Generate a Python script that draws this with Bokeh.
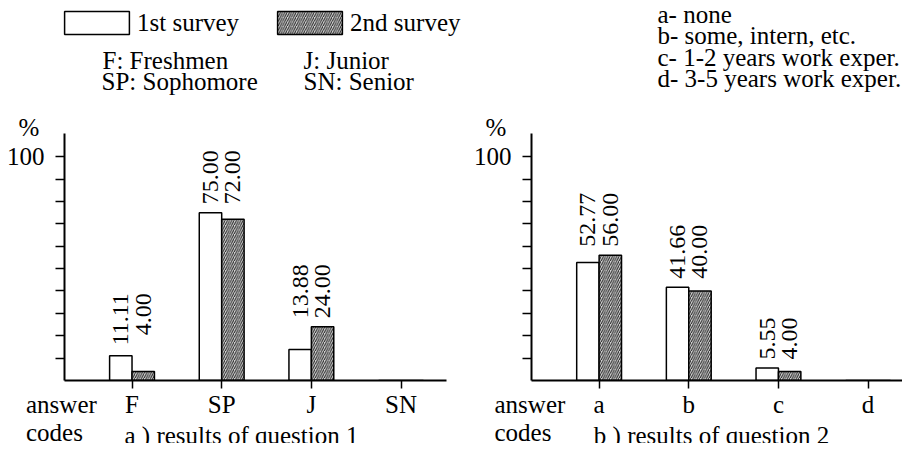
from bokeh.plotting import figure
from bokeh.models import Range1d, FixedTicker, Label, LabelSet, Legend, LegendItem, ColumnDataSource
from bokeh.layouts import row, column
from bokeh.embed import file_html
from bokeh.resources import INLINE

# ---------------- data ----------------
series_names = ["1st survey", "2nd survey"]

q1_codes = ["F", "SP", "J", "SN"]
q1_first = [11.11, 75.00, 13.88, 0.0]
q1_second = [4.00, 72.00, 24.00, 0.0]
q1_first_labels = ["11.11", "75.00", "13.88", ""]
q1_second_labels = ["4.00", "72.00", "24.00", ""]
q1_key_left = ["F: Freshmen", "SP: Sophomore"]
q1_key_right = ["J: Junior", "SN: Senior"]
q1_title = "a ) results of question 1"

q2_codes = ["a", "b", "c", "d"]
q2_first = [52.77, 41.66, 5.55, 0.0]
q2_second = [56.00, 40.00, 4.00, 0.0]
q2_first_labels = ["52.77", "41.66", "5.55", ""]
q2_second_labels = ["56.00", "40.00", "4.00", ""]
q2_key = ["a- none", "b- some, intern, etc.", "c- 1-2 years work exper.", "d- 3-5 years work exper."]
q2_title = "b ) results of question 2"

y_ticks = [10, 20, 30, 40, 50, 60, 70, 80, 90, 100]
y_tick_labels = {100: "100"}
y_unit = "%"
x_axis_name = ["answer", "codes"]

# ---------------- layout constants ----------------
FONT = "Liberation Serif"
FS = 24      # value labels
FS_T = 25    # other texts
PX_PER_CAT = 89.67
PX_PER_PCT = 2.238
W = 902
H = 451
OV_H = 459
TOP = 133
FRAME_H = 247
BOTTOM = H - TOP - FRAME_H
BAR_W = 0.25
GAP = 3.8
WHITE = dict(fill_color="white", line_color="black", line_width=1.5)
HATCH = dict(fill_color="#d4d4d4", hatch_pattern="/", hatch_color="#222222",
             hatch_scale=4.5, hatch_weight=1, line_color="black", line_width=1.5)


def text_len_px(s):
    return sum(0.25 if c == "." else 0.5 for c in s) * FS


def make_chart(codes, first, second, l1, l2, width, border_left, border_right, x_start):
    frame_w = width - border_left - border_right
    y_end = FRAME_H / PX_PER_PCT
    x_end = x_start + frame_w / PX_PER_CAT
    p = figure(width=width, height=H,
               min_border_left=border_left, min_border_right=border_right,
               min_border_top=TOP, min_border_bottom=BOTTOM,
               x_range=Range1d(x_start, x_end), y_range=Range1d(0, y_end),
               output_backend="svg", toolbar_location=None,
               background_fill_color="white", border_fill_color="white")
    p.outline_line_color = None
    p.grid.visible = False

    idx = list(range(len(codes)))
    src = ColumnDataSource(dict(
        x1=[i - BAR_W / 2 for i in idx], x2=[i + BAR_W / 2 for i in idx],
        first=first, second=second))
    p.vbar(x="x1", top="first", bottom=0, width=BAR_W, source=src, **WHITE)
    p.vbar(x="x2", top="second", bottom=0, width=BAR_W, source=src, **HATCH)

    # value labels (rotated), top aligned per pair
    tx, ty, tt = [], [], []
    for i in idx:
        m = max(first[i], second[i])
        longest = max(text_len_px(l1[i]), text_len_px(l2[i]))
        ytop = m + GAP + longest / PX_PER_PCT
        tx += [i - BAR_W / 2, i + BAR_W / 2]
        ty += [ytop, ytop]
        tt += [l1[i], l2[i]]
    lsrc = ColumnDataSource(dict(x=tx, y=ty, text=tt))
    p.add_layout(LabelSet(x="x", y="y", text="text", source=lsrc, angle=1.5707963,
                          text_align="right", text_baseline="middle",
                          text_font=FONT, text_font_size=f"{FS}px", text_color="black"))

    xa = p.xaxis[0]
    xa.ticker = FixedTicker(ticks=idx)
    xa.major_label_overrides = {i: c for i, c in zip(idx, codes)}
    xa.major_tick_in = 0
    xa.major_tick_out = 8
    xa.minor_tick_line_color = None
    xa.axis_line_width = 2
    xa.major_tick_line_width = 1.5
    xa.major_label_standoff = 2
    xa.major_label_text_font = FONT
    xa.major_label_text_font_size = f"{FS_T}px"
    xa.major_label_text_color = "black"

    ya = p.yaxis[0]
    ya.ticker = FixedTicker(ticks=y_ticks)
    ya.major_label_overrides = {t: y_tick_labels.get(t, "") for t in y_ticks}
    ya.major_tick_in = 0
    ya.major_tick_out = 9
    ya.minor_tick_line_color = None
    ya.axis_line_width = 2
    ya.major_tick_line_width = 1.5
    ya.major_label_standoff = 11
    ya.major_label_text_font = FONT
    ya.major_label_text_font_size = f"{FS_T}px"
    ya.major_label_text_color = "black"
    return p


p1 = make_chart(q1_codes, q1_first, q1_second, q1_first_labels, q1_second_labels,
                466, 64, 20, -0.753)
p2 = make_chart(q2_codes, q2_first, q2_second, q2_first_labels, q2_second_labels,
                436, 65, 0, -0.754)

# ---------- transparent text layer on top (page pixel coordinates) ----------
ov = figure(width=W, height=OV_H, min_border=0, x_range=Range1d(0, W), y_range=Range1d(H, 0),
            x_axis_location=None, y_axis_location=None,
            output_backend="svg", toolbar_location=None,
            styles={"position": "absolute", "left": "0px", "top": "-8px",
                    "overflow": "visible", "pointer-events": "none", "z-index": "2"})
ov.background_fill_alpha = 0
ov.border_fill_alpha = 0
ov.outline_line_color = None
ov.grid.visible = False


def lab(px, py, text, align="left"):
    ov.add_layout(Label(x=px, y=py, text=text, text_font=FONT,
                        text_font_size=f"{FS_T}px", text_align=align,
                        text_baseline="alphabetic", text_color="black"))


lab(18, 135, y_unit)
lab(485, 135, y_unit)
lab(25.5, 412.3, x_axis_name[0])
lab(25.5, 439.5, x_axis_name[1])
lab(494, 412.3, x_axis_name[0])
lab(494, 439.5, x_axis_name[1])
lab(241, 443, q1_title, "center")
lab(711, 443, q2_title, "center")
lab(102, 68.3, q1_key_left[0])
lab(101, 89.3, q1_key_left[1])
lab(303, 68.3, q1_key_right[0])
lab(303, 89.3, q1_key_right[1])
for k, line in enumerate(q2_key):
    lab(657, 21.7 + k * 21.4, line)

# legend swatches take their look from renderers placed outside the visible area
s1 = ov.vbar(x=[-500], top=[1], width=1, **WHITE)
s2 = ov.vbar(x=[-500], top=[1], width=1, **HATCH)
legend = Legend(items=[LegendItem(label=series_names[0], renderers=[s1]),
                       LegendItem(label=series_names[1], renderers=[s2])],
                location=(56, 406), orientation="horizontal",
                glyph_width=81, glyph_height=29, spacing=30, padding=0, margin=0,
                label_standoff=-8, label_text_font=FONT, label_text_font_size=f"{FS_T}px",
                label_text_color="black", border_line_color=None,
                background_fill_alpha=0)
ov.add_layout(legend)

layout = column(row(p1, p2, spacing=0), ov, spacing=0)
open("out.html", "w").write(file_html(layout, INLINE))
